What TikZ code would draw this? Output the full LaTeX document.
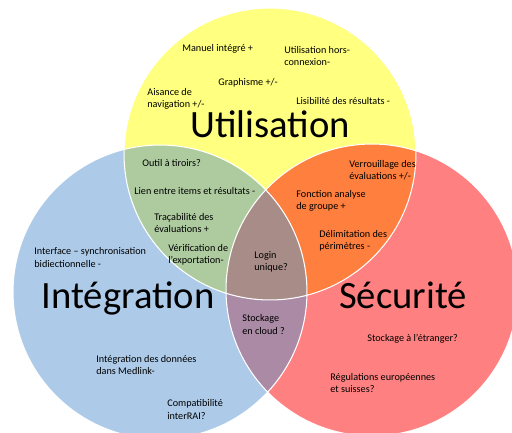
\documentclass[tikz,border=0pt]{standalone}
\usepackage{fontspec}
\setmainfont{Carlito}
\definecolor{utilfill}{RGB}{255,255,128}
\definecolor{integfill}{RGB}{173,203,233}
\definecolor{securfill}{RGB}{255,128,128}
\definecolor{uifill}{RGB}{174,203,160}
\definecolor{usfill}{RGB}{255,128,62}
\definecolor{isfill}{RGB}{170,138,165}
\definecolor{uisfill}{RGB}{168,140,135}
\def \cU {(270,154) circle (2.92cm)}
\def \cI {(160,292) circle (2.94cm)}
\def \cS {(372,290) circle (2.92cm)}

\begin{document}
\begin{tikzpicture}[x=0.02cm,y=-0.02cm]
\tikzstyle{item}=[anchor=west,align=left,inner sep=0pt,font=\fontsize{5.8}{7}\selectfont];
\tikzstyle{title}=[anchor=base,inner sep=0pt,font=\fontsize{22}{26}\selectfont];
\useasboundingbox (0,0) rectangle (512,433);
\clip (0,0) rectangle (512,433);
% circles
\fill [utilfill] \cU;
\fill [integfill] \cI;
\fill [securfill] \cS;
% overlaps
\begin{scope}
\clip \cU;
\fill [uifill] \cI;
\fill [usfill] \cS;
\end{scope}
\begin{scope}
\clip \cI;
\fill [isfill] \cS;
\clip \cS;
\fill [uisfill] \cU;
\end{scope}
\draw [white,line width=0.6pt] \cU \cI \cS;
% titles
\node (util) [title] at (270,137) {Utilisation};
\node (integ) [title] at (128,308) {Intégration};
\node (secur) [title] at (403,308) {Sécurité};
% Utilisation
\node (manuel) [item] at (182,49) {Manuel intégré +};
\node (horsco) [item] at (284,56) {Utilisation hors-\\connexion-};
\node (graph) [item] at (218,83) {Graphisme +/-};
\node (aisance) [item] at (147,99) {Aisance de\\navigation +/-};
\node (lisib) [item] at (296,101) {Lisibilité des résultats -};
% Utilisation et Intégration
\node (outil) [item] at (142,163) {Outil à tiroirs?};
\node (lien) [item] at (134,191) {Lien entre items et résultats -};
\node (traca) [item] at (154,223) {Traçabilité des\\évaluations +};
\node (verif) [item] at (168,255) {Vérification de\\l'exportation-};
% Intégration
\node (interf) [item] at (34,257.5) {Interface – synchronisation\\bidiectionnelle -};
\node (medlink) [item] at (96,365) {Intégration des données\\dans Medlink-};
\node (interrai) [item] at (167,409.5) {Compatibilité\\interRAI?};
% Utilisation et Sécurité
\node (verrou) [item] at (349,170) {Verrouillage des\\évaluations +/-};
\node (fonction) [item] at (296,201) {Fonction analyse\\de groupe +};
\node (delim) [item] at (319,241) {Délimitation des\\périmètres -};
% centre
\node (login) [item] at (254,262) {Login\\unique?};
\node (cloud) [item] at (242,324.5) {Stockage\\en cloud ?};
% Sécurité
\node (etranger) [item] at (367,339) {Stockage à l'étranger?};
\node (regul) [item] at (330,383) {Régulations européennes\\et suisses?};
\end{tikzpicture}
\end{document}
